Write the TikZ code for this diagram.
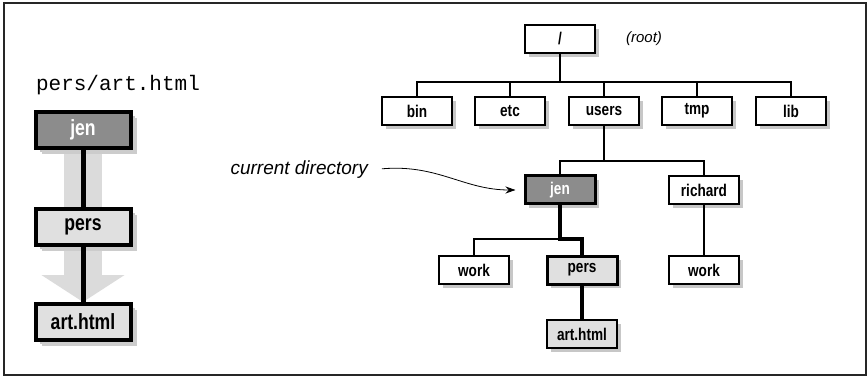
\documentclass[tikz,border=0pt]{standalone}
\usepackage{fontspec}
\setmainfont{Liberation Sans}
\newfontfamily\boxfont[FakeStretch=0.8]{Liberation Sans}
\newfontfamily\notefont{Liberation Sans}
\newfontfamily\pathfont{Liberation Mono}
\usetikzlibrary{positioning, shadows, arrows.meta, backgrounds}

\begin{document}
\begin{tikzpicture}[x=1pt,y=-1pt,node distance=93pt,on grid,
    dir/.style={draw,line width=1.8pt,fill=white,minimum width=70pt,minimum height=28pt,inner sep=0pt,
      font=\boxfont\bfseries\fontsize{17}{20}\selectfont,
      drop shadow={shadow xshift=4pt,shadow yshift=-4pt,fill=black!22,opacity=1}},
    curdir/.style={dir,fill=black!45,text=white,line width=3pt},
    seldir/.style={dir,fill=black!12,line width=3pt},
    bigdir/.style={dir,minimum width=95pt,minimum height=36pt,line width=4pt,
      font=\boxfont\bfseries\fontsize{22}{26}\selectfont,
      drop shadow={shadow xshift=6pt,shadow yshift=-6pt,fill=black!20,opacity=1}},
    bigcur/.style={bigdir,fill=black!45,text=white},
    bigsel/.style={bigdir,fill=black!12},
    link/.style={draw,line width=1.5pt},
    selpath/.style={draw,line width=4pt},
    note/.style={inner sep=0pt,font=\notefont\itshape},
    pointer/.style={draw,line width=0.8pt,-{Stealth[length=10pt,width=7pt]},shorten <=14pt,shorten >=8pt},
    bigarrow/.style={draw=black!14,line width=38pt,-{Triangle[length=27pt,width=82pt]}}]

    \useasboundingbox (0,0) rectangle (868,377);
    \draw[line width=1.2pt,black!85] (4,3) rectangle (866,375);

    \node[font=\pathfont\fontsize{21}{25}\selectfont] (lpath) at (118,85) {pers/art.html};
    \node[bigcur] (ljen) at (83,130) {jen};
    \node[bigsel, below=97pt of ljen] (lpers) {pers};
    \node[bigsel, below=95pt of lpers] (lart) {art.html};
    \begin{pgfonlayer}{background}
        \draw[bigarrow] (ljen.center) -- (lart.north);
    \end{pgfonlayer}
    \draw[line width=5pt] (ljen) -- (lpers) (lpers) -- (lart);

    \node[dir] (root) at (560,39) {/};
    \node[note, right=84pt of root, font=\notefont\itshape\fontsize{15}{18}\selectfont] (rootlbl) {(root)};
    \node[dir] (bin) at (417,111) {bin};
    \node[dir, right=of bin] (etc) {etc};
    \node[dir, right=94pt of etc] (users) {users};
    \node[dir, right=of users] (tmp) {tmp};
    \node[dir, right=94pt of tmp] (lib) {lib};
    \node[curdir] (jen) at (560,190) {jen};
    \node[dir, right=144pt of jen] (richard) {richard};
    \node[dir] (work) at (474,270) {work};
    \node[seldir, right=108pt of work] (pers) {pers};
    \node[dir, below=80pt of richard] (rwork) {work};
    \node[seldir, line width=2.2pt, below=64pt of pers] (art) {art.html};

    \foreach \c in {bin,etc,users,tmp,lib}
        \path[link] (root) -- ++(0,43) -| (\c);
    \path[link] (users) -- ++(0,50) -| (jen);
    \path[link] (users) -- ++(0,50) -| (richard);
    \path[link] (jen) -- ++(0,49) -| (work);
    \path[selpath] (jen) -- ++(0,49) -| (pers);
    \path[selpath] (pers) -- (art);
    \path[link] (richard) -- (rwork);

    \node[note, anchor=east, font=\notefont\itshape\fontsize{19}{22}\selectfont] (cur) at (368,170) {current directory};
    \path[pointer] (cur.east) .. controls +(70,-6) and +(-60,0) .. (jen.west);
\end{tikzpicture}
\end{document}
